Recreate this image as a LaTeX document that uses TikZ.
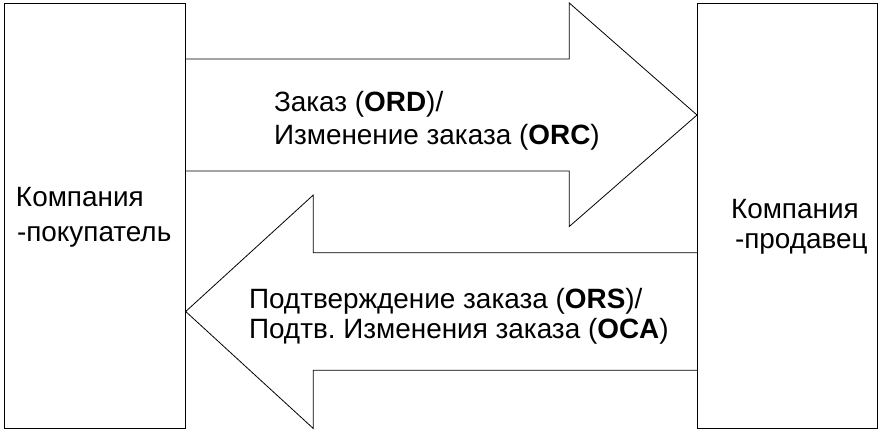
\documentclass[tikz,border=0pt]{standalone}
\usepackage{fontspec}
\setmainfont{Liberation Sans}
\frenchspacing
\begin{document}
\begin{tikzpicture}[x=1pt,y=-1pt,
  boxst/.style={draw=black,line width=0.9pt,inner sep=0pt,outer sep=0pt,fill=white},
  arrowst/.style={draw=black,line width=0.8pt,line join=miter},
  lbl/.style={anchor=base west,inner sep=0pt,outer sep=0pt,font=\fontsize{27.9}{32}\selectfont}]
\useasboundingbox[fill=white] (0,0) rectangle (884,432);
% boxes
\node[boxst,anchor=north west,minimum width=181.5pt,minimum height=425.5pt] (L) at (4,3) {};
\node[boxst,anchor=north west,minimum width=180.5pt,minimum height=425.5pt] (R) at (697,3) {};
% top arrow (buyer -> seller)
\draw[arrowst] (185.5,59) -- (569.3,59) -- (569.3,3) -- (697,115) -- (569.3,226.5) -- (569.3,171) -- (185.5,171);
% bottom arrow (seller -> buyer)
\draw[arrowst] (697,252.7) -- (313.3,252.7) -- (313.3,195) -- (185.7,311.5) -- (313.3,428.5) -- (313.3,370.3) -- (697,370.3);
% box labels
\node[lbl] (l1) at (16,206.7) {Компания};
\node[lbl] (l2) at (17,241.7) {-покупатель};
\node[lbl] (r1) at (731,218.3) {Компания};
\node[lbl] (r2) at (735,248.3) {-продавец};
% arrow labels
\node[lbl] (t1) at (274,111.7) {Заказ (\textbf{ORD})/};
\node[lbl] (t2) at (274,144) {Изменение заказа (\textbf{ORC})};
\node[lbl] (b1) at (249,308) {Подтверждение заказа (\textbf{ORS})/};
\node[lbl] (b2) at (249,338) {Подтв.\ Изменения заказа (\textbf{OCA})};
\end{tikzpicture}
\end{document}
